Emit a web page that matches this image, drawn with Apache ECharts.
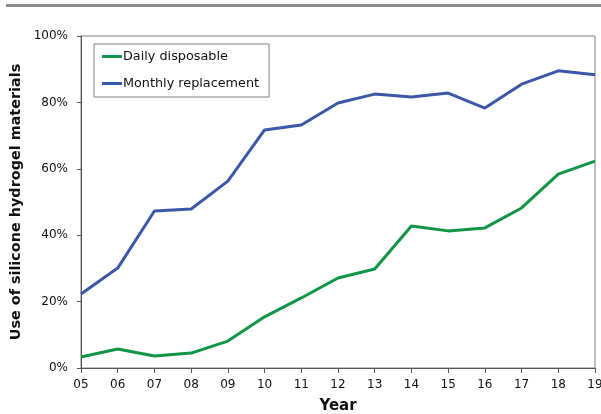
<!DOCTYPE html>
<html><head><meta charset="utf-8">
<script src="https://cdn.jsdelivr.net/npm/echarts@6/dist/echarts.min.js"></script>
<style>html,body{margin:0;padding:0;background:#fff}#c{width:601px;height:414px}</style>
</head><body><div id="c"></div>
<script>
var years = ['05','06','07','08','09','10','11','12','13','14','15','16','17','18','19'];
var daily = [3.3, 5.7, 3.6, 4.5, 8.1, 15.4, 21.1, 27.1, 29.8, 42.8, 41.3, 42.2, 48.2, 58.4, 62.3];
var monthly = [22.3, 30.1, 47.3, 47.9, 56.3, 71.7, 73.2, 79.8, 82.5, 81.6, 82.8, 78.3, 85.5, 89.5, 88.3];
var yTicks = [0, 20, 40, 60, 80, 100];

var font = 'DejaVu Sans, Verdana, sans-serif';
var chart = echarts.init(document.getElementById('c'), null, {renderer: 'canvas'});
chart.setOption({
  animation: false,
  textStyle: {fontFamily: font},
  graphic: [{type: 'rect', shape: {x: 6, y: 4, width: 595, height: 3}, style: {fill: '#8c8c8c'}}],
  grid: {left: 81, right: 6, top: 36, bottom: 46, show: true, borderColor: '#808080', borderWidth: 1,
         containLabel: false, outerBoundsMode: 'none'},
  legend: {
    orient: 'vertical', left: 94, top: 44, width: 175,
    padding: [6, 10, 7, 8], itemGap: 14,
    borderColor: '#808080', borderWidth: 1,
    icon: 'rect', itemWidth: 20, itemHeight: 3,
    textStyle: {fontFamily: font, fontSize: 12.8, color: '#111', padding: [0, 0, 0, -4]},
    data: ['Daily disposable', 'Monthly replacement']
  },
  xAxis: {
    type: 'category', data: years, boundaryGap: false,
    name: 'Year', nameLocation: 'middle', nameGap: 31,
    nameTextStyle: {fontFamily: font, fontSize: 15, fontWeight: 'bold', color: '#111'},
    axisLine: {lineStyle: {color: '#555', width: 1}},
    axisTick: {show: true, length: 5, lineStyle: {color: '#555'}},
    axisLabel: {fontFamily: font, fontSize: 12, color: '#111', margin: 11, showMaxLabel: true}
  },
  yAxis: {
    type: 'value', min: 0, max: 100, interval: 20,
    name: 'Use of silicone hydrogel materials', nameLocation: 'middle', nameGap: 52,
    nameTextStyle: {fontFamily: font, fontSize: 14.4, fontWeight: 'bold', color: '#111'},
    axisLine: {show: true, lineStyle: {color: '#555', width: 1}},
    axisTick: {show: true, length: 4, lineStyle: {color: '#555'}},
    splitLine: {show: false},
    axisLabel: {fontFamily: font, fontSize: 12, color: '#111', margin: 13,
      formatter: function (v) { return yTicks.indexOf(v) >= 0 ? v + '%' : ''; }}
  },
  series: [
    {name: 'Daily disposable', type: 'line', data: daily, symbol: 'none',
     itemStyle: {color: '#119447'}, lineStyle: {color: '#119447', width: 3}},
    {name: 'Monthly replacement', type: 'line', data: monthly, symbol: 'none',
     itemStyle: {color: '#3d57a7'}, lineStyle: {color: '#3d57a7', width: 3}}
  ]
});
</script></body></html>
